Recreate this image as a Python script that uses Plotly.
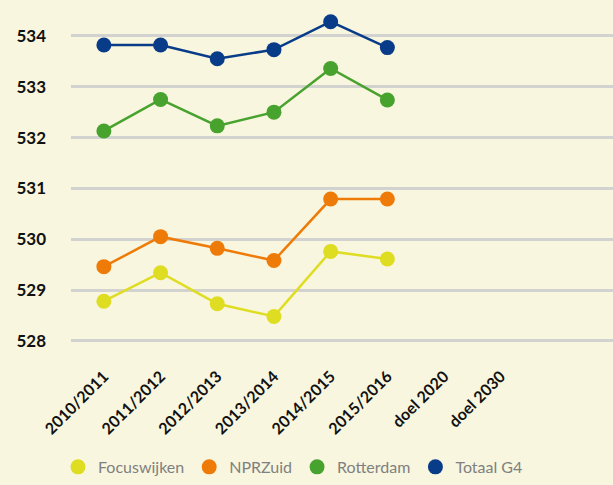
import plotly.graph_objects as go

categories = ['2010/2011', '2011/2012', '2012/2013', '2013/2014',
              '2014/2015', '2015/2016', 'doel 2020', 'doel 2030']

focuswijken = [528.78, 529.34, 528.73, 528.48, 529.76, 529.61, None, None]
nprzuid = [529.46, 530.05, 529.82, 529.58, 530.79, 530.79, None, None]
rotterdam = [532.13, 532.75, 532.23, 532.50, 533.36, 532.74, None, None]
totaal_g4 = [533.82, 533.82, 533.55, 533.73, 534.28, 533.77, None, None]

series = [
    ('Focuswijken', focuswijken, '#dfdd22'),
    ('NPRZuid', nprzuid, '#ee7b08'),
    ('Rotterdam', rotterdam, '#48a22e'),
    ('Totaal G4', totaal_g4, '#083c88'),
]

fig = go.Figure()
for name, vals, col in series:
    fig.add_trace(go.Scatter(x=categories, y=vals, mode='lines+markers', name=name,
                             line=dict(color=col, width=2.5),
                             marker=dict(color=col, size=15),
                             legendgroup=name, showlegend=False))
    # legend entry: dot only
    fig.add_trace(go.Scatter(x=[None], y=[None], mode='markers', name=name,
                             marker=dict(color=col, size=15),
                             legendgroup=name, showlegend=True))

bg = '#f8f6de'
fig.update_layout(
    width=613, height=485,
    paper_bgcolor=bg, plot_bgcolor=bg,
    margin=dict(l=71, r=0, t=10, b=134),
    font=dict(family='Lato', color='#111111'),
    showlegend=True,
    legend=dict(orientation='h', x=-0.024, xanchor='left', y=-0.34, yanchor='middle',
                font=dict(size=16, color='#808080'), itemwidth=30,
                bgcolor='rgba(0,0,0,0)'),
)
fig.update_xaxes(type='category', categoryorder='array', categoryarray=categories,
                 range=[-0.58, 8.98], showgrid=False, zeroline=False, showline=False,
                 tickangle=-45, tickfont=dict(size=16, color='#111111', weight='bold'),
                 ticks='', ticklabelstandoff=12)
fig.update_yaxes(range=[527.8, 534.51], dtick=1, tick0=528, showgrid=True,
                 gridcolor='#d2d2d0', gridwidth=3, zeroline=False, showline=False,
                 tickfont=dict(size=17, color='#111111', weight='bold'),
                 ticks='', ticklabelstandoff=24)

# drop the default page margin so the chart fills the window
fig.write_html('out.html', config={'displayModeBar': False},
               post_script="document.body.style.margin='0';document.body.style.background='%s';" % bg)
